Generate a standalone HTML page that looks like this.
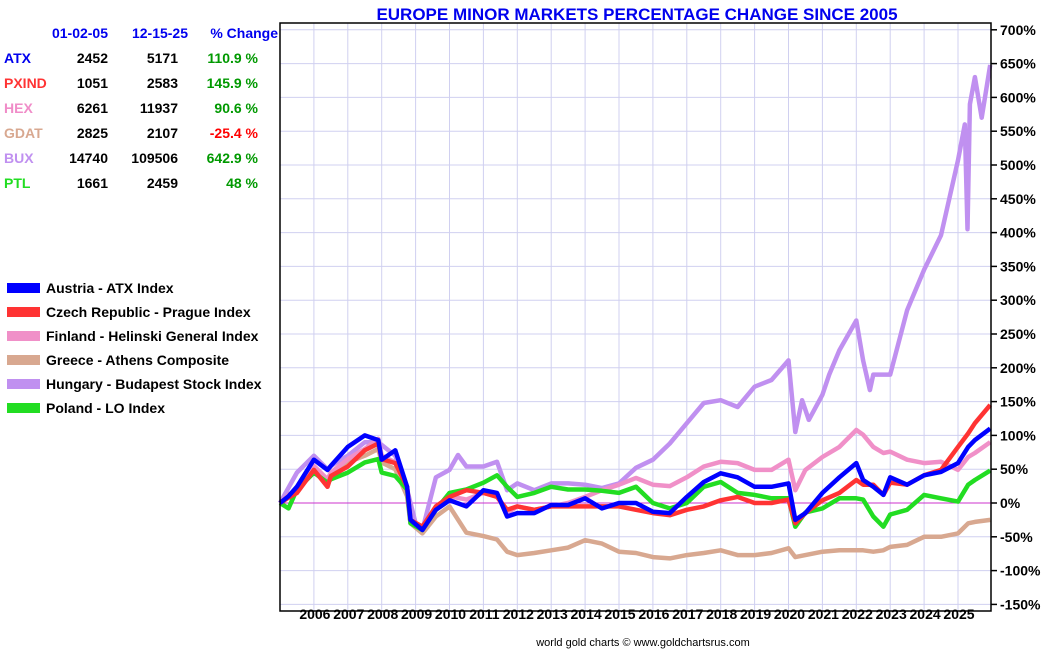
<!DOCTYPE html>
<html><head><meta charset="utf-8"><style>
body{margin:0;background:#fff;width:1050px;height:650px;overflow:hidden}
svg text{font-family:"Liberation Sans",Arial,sans-serif;font-weight:bold}
</style></head><body>
<svg id="chart" width="1050" height="650" xmlns="http://www.w3.org/2000/svg">
<text x="637" y="20" text-anchor="middle" font-size="17" fill="#0000ee">EUROPE MINOR MARKETS PERCENTAGE CHANGE SINCE 2005</text>
<g id="grid"></g>
<line x1="280" x2="991" y1="503" y2="503" stroke="#cc33cc" stroke-width="1"/>
<g id="series"></g>
<rect x="280" y="23" width="711" height="588" fill="none" stroke="#000" stroke-width="1.5"/>
<g id="axes"></g>
<g id="table"></g>
<g id="legend"></g>
<text x="643" y="646" text-anchor="middle" font-size="11" style="font-weight:normal" fill="#000">world gold charts © www.goldchartsrus.com</text>
</svg>
<script>
const dates=[2005.0,2005.25,2005.5,2006.0,2006.4,2006.5,2007.0,2007.5,2007.9,2008.0,2008.4,2008.75,2008.85,2009.2,2009.6,2010.0,2010.5,2011.0,2011.4,2011.7,2012.0,2012.5,2013.0,2013.5,2014.0,2014.5,2015.0,2015.5,2016.0,2016.5,2017.0,2017.5,2018.0,2018.5,2019.0,2019.5,2020.0,2020.2,2020.5,2021.0,2021.5,2022.0,2022.2,2022.5,2022.8,2023.0,2023.5,2024.0,2024.5,2025.0,2025.3,2025.5,2025.95];
const austria=[0,10,24,64,49,55,83,100,93,64,78,24,-25,-40,-10,4,-5,19,15,-20,-15,-15,-3,-3,7,-8,0,0,-13,-15,9,31,44,38,24,24,29,-25,-15,15,38,59,34,24,12,38,27,41,46,59,83,93,110];
const czech=[0,8,15,49,24,40,54,78,88,65,59,24,-25,-35,-5,9,19,15,9,-10,-5,-10,-5,-5,-5,-5,-5,-10,-15,-18,-10,-5,4,9,0,0,5,-30,-15,4,15,34,27,27,12,30,27,41,49,83,103,118,145];
const finland=[0,12,20,55,35,45,65,80,95,70,60,20,-30,-40,-10,10,5,15,10,-15,-5,-10,-5,0,9,19,27,37,27,25,38,54,61,59,49,49,64,19,49,68,83,108,101,83,74,76,64,59,61,49,68,74,90];
const greece=[0,8,15,50,30,40,60,70,80,60,50,10,-30,-45,-20,-5,-44,-49,-54,-72,-77,-74,-70,-66,-55,-60,-72,-74,-80,-82,-77,-74,-70,-77,-77,-74,-67,-80,-77,-72,-70,-70,-70,-72,-70,-65,-62,-50,-50,-45,-30,-28,-25];
const poland=[0,-8,20,45,30,35,45,60,65,45,40,20,-30,-40,-10,15,20,30,41,24,9,15,24,20,20,18,15,24,0,-8,0,24,31,15,12,7,7,-35,-14,-8,7,7,5,-20,-35,-17,-10,12,7,2,27,34,48];
const hunDates=[2005.0,2005.5,2006.0,2006.4,2006.5,2007.0,2007.5,2007.9,2008.4,2008.75,2009.0,2009.2,2009.6,2010.0,2010.25,2010.5,2011.0,2011.4,2011.7,2012.0,2012.5,2013.0,2013.5,2014.0,2014.5,2015.0,2015.5,2016.0,2016.5,2017.0,2017.5,2018.0,2018.5,2019.0,2019.5,2020.0,2020.2,2020.4,2020.6,2021.0,2021.2,2021.5,2022.0,2022.2,2022.4,2022.5,2022.8,2023.0,2023.5,2024.0,2024.5,2025.0,2025.2,2025.28,2025.35,2025.5,2025.7,2025.95];
const hungary=[0,45,70,50,55,70,90,90,70,20,-30,-40,38,49,71,54,54,61,19,29,19,29,29,27,22,29,52,64,88,118,148,152,142,172,182,211,105,152,123,160,190,226,270,211,167,190,190,190,285,345,396,507,560,405,590,630,570,648];
const yTicks=[700,650,600,550,500,450,400,350,300,250,200,150,100,50,0,-50,-100,-150];
const yearLabels=[2006,2007,2008,2009,2010,2011,2012,2013,2014,2015,2016,2017,2018,2019,2020,2021,2022,2023,2024,2025];
const tableRows=[["ATX","2452","5171","110.9 %","#0000ee","#009900"],["PXIND","1051","2583","145.9 %","#ff3333","#009900"],["HEX","6261","11937","90.6 %","#f08cc8","#009900"],["GDAT","2825","2107","-25.4 %","#d8a890","#ff0000"],["BUX","14740","109506","642.9 %","#c090f0","#009900"],["PTL","1661","2459","48 %","#22dd22","#009900"]];
const legendItems=[["Austria - ATX Index","#0000ff"],["Czech Republic - Prague Index","#ff3333"],["Finland - Helinski General Index","#f090c8"],["Greece - Athens Composite","#d8a890"],["Hungary - Budapest Stock Index","#c090f0"],["Poland - LO Index","#22dd22"]];

const NS="http://www.w3.org/2000/svg";
const xS=t=>280+(t-2005)*33.9;
const yS=v=>503-v*0.676;
function mk(tag,attrs,parent){const e=document.createElementNS(NS,tag);for(const k in attrs)e.setAttribute(k,attrs[k]);parent.appendChild(e);return e;}
const grid=document.getElementById('grid'),axes=document.getElementById('axes'),ser=document.getElementById('series');
yTicks.forEach(v=>{
 const l=mk('line',{x1:280,x2:991,y1:yS(v),y2:yS(v),stroke:'#d0d0f0','stroke-width':1},grid);
 
 
 const tk=mk('line',{x1:991,x2:997,y1:yS(v),y2:yS(v),stroke:'#000','stroke-width':1.5},axes);
 
 
 const t=mk('text',{x:1000,y:yS(v)+5,'font-size':14,fill:'#000'},axes);
 t.textContent=v+'%';
 
 
});
yearLabels.forEach(y=>{
 const l=mk('line',{x1:xS(y),x2:xS(y),y1:23,y2:611,stroke:'#d0d0f0','stroke-width':1},grid);
 
 
 const t=mk('text',{x:xS(y)+1,y:619,'font-size':14,'text-anchor':'middle',fill:'#000'},axes);
 t.textContent=y;
 
 
});
function line(ds,vs,color,name){
 const p=mk('polyline',{points:vs.map((v,i)=>xS(ds[i]).toFixed(1)+','+yS(v).toFixed(1)).join(' '),fill:'none',stroke:color,'stroke-width':4.5,'stroke-linejoin':'round'},ser);
 
 
}
line(hunDates,hungary,'#c090f0','hungary-line');
line(dates,greece,'#d8a890','greece-line');
line(dates,finland,'#f090c8','finland-line');
line(dates,poland,'#22dd22','poland-line');
line(dates,czech,'#ff3333','czech-line');
line(dates,austria,'#0000ff','austria-line');

const tb=document.getElementById('table');
[["01-02-05",108],["12-15-25",188],["% Change",278]].forEach(h=>{
 const t=mk('text',{x:h[1],y:38,'font-size':14,'text-anchor':'end',fill:'#0000ee'},tb);
 t.textContent=h[0];
 
 
});
tableRows.forEach((r,i)=>{
 const y=63+i*25;
 const a=mk('text',{x:4,y:y,'font-size':14,fill:r[4]},tb);a.textContent=r[0];
 
 
 const b=mk('text',{x:108,y:y,'font-size':14,'text-anchor':'end',fill:'#000'},tb);b.textContent=r[1];
 
 
 const c=mk('text',{x:178,y:y,'font-size':14,'text-anchor':'end',fill:'#000'},tb);c.textContent=r[2];
 
 
 const d=mk('text',{x:258,y:y,'font-size':14,'text-anchor':'end',fill:r[5]},tb);d.textContent=r[3];
 
 
});
const lg=document.getElementById('legend');
legendItems.forEach((it,i)=>{
 const y=288+i*24;
 const s=mk('rect',{x:7,y:y-5,width:33,height:10,fill:it[1]},lg);
 
 
 const t=mk('text',{x:46,y:y+5,'font-size':14,fill:'#000'},lg);t.textContent=it[0];
 
 
});
</script>
</body></html>
